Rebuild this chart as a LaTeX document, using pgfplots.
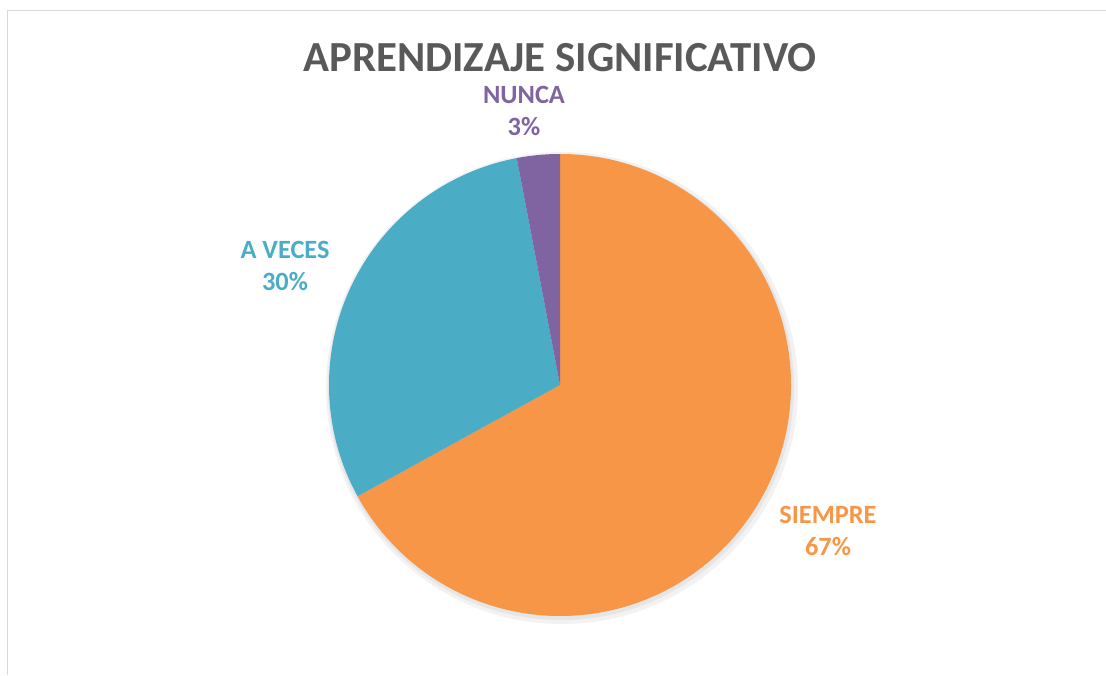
\documentclass[border=0pt]{standalone}
\usepackage{fontspec}
\setmainfont{Carlito}
\usepackage{pgfplots}
\usepackage{pgfplotstable}
\pgfplotsset{compat=1.18}

\definecolor{siempre}{RGB}{247,150,70}
\definecolor{aveces}{RGB}{75,172,198}
\definecolor{nunca}{RGB}{128,100,162}
\definecolor{titlegray}{RGB}{89,89,89}
\definecolor{framegray}{RGB}{217,217,217}

% share of answers, percent
\pgfplotstableread{
idx value
0 67
1 30
2 3
}\piedata

\pgfplotstablegetelem{0}{value}\of\piedata \let\vSiempre\pgfplotsretval
\pgfplotstablegetelem{1}{value}\of\piedata \let\vAveces\pgfplotsretval
\pgfplotstablegetelem{2}{value}\of\piedata \let\vNunca\pgfplotsretval

% slices run clockwise from 12 o'clock
\pgfmathsetmacro\aA{90}
\pgfmathsetmacro\aB{\aA-3.6*\vSiempre}
\pgfmathsetmacro\aC{\aB-3.6*\vAveces}
\pgfmathsetmacro\aD{\aC-3.6*\vNunca}
\def\R{2.31cm}

\begin{document}
\begin{tikzpicture}
\begin{axis}[
  width=11.06cm, height=6.75cm, scale only axis,
  xmin=0, xmax=1106, ymin=0, ymax=675,
  hide axis, clip=false,
]
% frame (right and bottom edges fall outside the picture)
\draw[framegray, line width=0.15mm] (axis cs:7.5,0) -- (axis cs:7.5,664.5) -- (axis cs:1106,664.5);

% soft shadow
\fill[black, opacity=0.05] (axis cs:562,287) circle[radius=2.36cm];
\fill[black, opacity=0.05] (axis cs:561,288) circle[radius=2.33cm];

\fill[siempre] (axis cs:560,290) -- ++(\aA:\R) arc[start angle=\aA, end angle=\aB, radius=\R] -- cycle;
\fill[aveces]  (axis cs:560,290) -- ++(\aB:\R) arc[start angle=\aB, end angle=\aC, radius=\R] -- cycle;
\fill[nunca]   (axis cs:560,290) -- ++(\aC:\R) arc[start angle=\aC, end angle=\aD, radius=\R] -- cycle;

\node[titlegray, font=\fontsize{12.2}{14}\selectfont\bfseries] at (axis cs:560,617) {APRENDIZAJE SIGNIFICATIVO};

\node[nunca, font=\fontsize{7.5}{9.1}\selectfont\bfseries, align=center] at (axis cs:524,564) {NUNCA\\\vNunca\%};
\node[aveces, font=\fontsize{7.5}{9.1}\selectfont\bfseries, align=center] at (axis cs:285,409) {A VECES\\\vAveces\%};
\node[siempre, font=\fontsize{7.5}{9.1}\selectfont\bfseries, align=center] at (axis cs:828,144) {SIEMPRE\\\vSiempre\%};
\end{axis}
\pgfresetboundingbox
\useasboundingbox (current axis.south west) rectangle (current axis.north east);
\end{tikzpicture}
\end{document}
